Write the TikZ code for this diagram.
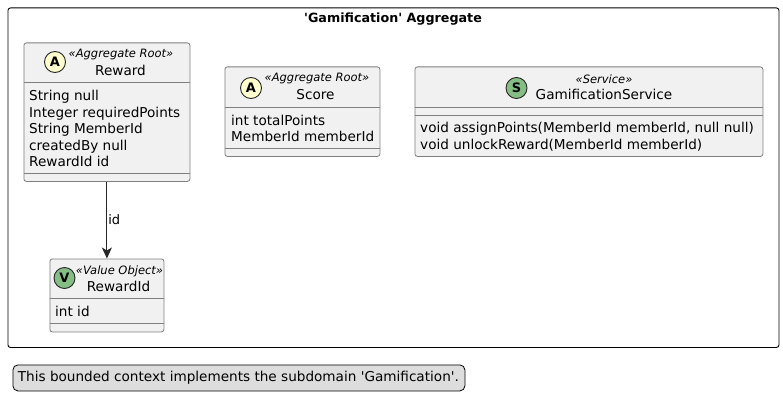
\documentclass[tikz,border=0pt]{standalone}
\usepackage{fontspec}
\setmainfont{DejaVu Sans}
\usetikzlibrary{arrows.meta}
\definecolor{boxfill}{HTML}{F1F1F1}
\definecolor{boxline}{HTML}{7F7F7F}
\definecolor{legendfill}{HTML}{DDDDDD}
\definecolor{badgeA}{HTML}{FEFECE}
\definecolor{badgeG}{HTML}{84BE84}
\tikzset{
  classbox/.style={draw=boxline, fill=boxfill, line width=0.8pt, rounded corners=2.5pt, inner sep=0pt, anchor=north west},
  divider/.style={draw=boxline, line width=0.8pt},
  badge/.style={circle, draw=black!85, line width=0.9pt, minimum size=21pt, inner sep=0pt, font=\fontsize{13}{13}\selectfont\bfseries},
  stereo/.style={font=\fontsize{11.5}{12}\selectfont\itshape, inner sep=0pt},
  title/.style={font=\fontsize{13.6}{14}\selectfont, inner sep=0pt},
  members/.style={font=\fontsize{13.6}{16.5}\selectfont, inner sep=0pt, anchor=north west, align=left},
}
\begin{document}
\begin{tikzpicture}[x=1pt, y=-1pt]
  \useasboundingbox (0,0) rectangle (783,409);

  % Frame
  \node[draw=black, line width=0.9pt, rounded corners=2.5pt, anchor=north west, minimum width=771pt, minimum height=339.5pt, inner sep=0pt] (frame) at (7.5,7.5) {};
  \node[font=\fontsize{12.7}{14}\selectfont\bfseries, inner sep=0pt] (frametitle) at (393,19.5) {\textquotesingle Gamification\textquotesingle{} Aggregate};

  % Reward
  \node[classbox, minimum width=166pt, minimum height=138.5pt] (reward) at (23.5,42.5) {};
  \draw[divider] (reward.west |- 0,82.5) -- (reward.east |- 0,82.5);
  \draw[divider] (reward.west |- 0,173) -- (reward.east |- 0,173);
  \node[badge, fill=badgeA] (rewardA) at (55,62) {A};
  \node[stereo] (rewardS) at (121,55) {«Aggregate Root»};
  \node[title] (rewardT) at (120.5,70.5) {Reward};
  \node[members] (rewardM) at (29,90) {String null\\Integer requiredPoints\\String MemberId\\createdBy null\\RewardId id};

  % Score
  \node[classbox, minimum width=155pt, minimum height=89.5pt] (score) at (224.5,66.5) {};
  \draw[divider] (score.west |- 0,107.5) -- (score.east |- 0,107.5);
  \draw[divider] (score.west |- 0,148) -- (score.east |- 0,148);
  \node[badge, fill=badgeA] (scoreA) at (251,88) {A};
  \node[stereo] (scoreS) at (317,79) {«Aggregate Root»};
  \node[title] (scoreT) at (315.5,94.5) {Score};
  \node[members] (scoreM) at (231,114.5) {int totalPoints\\MemberId memberId};

  % GamificationService
  \node[classbox, minimum width=348pt, minimum height=89.5pt] (service) at (414.5,66.5) {};
  \draw[divider] (service.west |- 0,107.5) -- (service.east |- 0,107.5);
  \draw[divider] (service.west |- 0,115) -- (service.east |- 0,115);
  \node[badge, fill=badgeG] (serviceS) at (516.5,88) {S};
  \node[stereo] (serviceL) at (604,79) {«Service»};
  \node[title] (serviceT) at (604,94.5) {GamificationService};
  \node[members] (serviceM) at (420,122) {void assignPoints(MemberId memberId, null null)\\void unlockReward(MemberId memberId)};

  % RewardId
  \node[classbox, minimum width=114pt, minimum height=73pt] (rewardid) at (49.5,258.5) {};
  \draw[divider] (rewardid.west |- 0,298.5) -- (rewardid.east |- 0,298.5);
  \draw[divider] (rewardid.west |- 0,323.5) -- (rewardid.east |- 0,323.5);
  \node[badge, fill=badgeG] (rewardidV) at (64.5,278) {V};
  \node[stereo] (rewardidS) at (119.5,271) {«Value Object»};
  \node[title] (rewardidT) at (118.5,286.5) {RewardId};
  \node[members] (rewardidM) at (55,305.5) {int id};

  % Connector
  \draw[line width=0.9pt, black!85, -{Stealth[inset=3pt, length=11pt, width=10pt]}] (reward.south) -- node[right, pos=0.5, font=\fontsize{13}{13}\selectfont, inner sep=1pt, text=black] {id} (rewardid.north);

  % Legend
  \node[draw=black, fill=legendfill, line width=0.8pt, rounded corners=5pt, anchor=north west, minimum width=452pt, minimum height=26pt, inner sep=0pt, font=\fontsize{13.6}{14}\selectfont] (legend) at (12.5,364.5) {\makebox[442pt][l]{This bounded context implements the subdomain \textquotesingle Gamification\textquotesingle.}};
\end{tikzpicture}
\end{document}
